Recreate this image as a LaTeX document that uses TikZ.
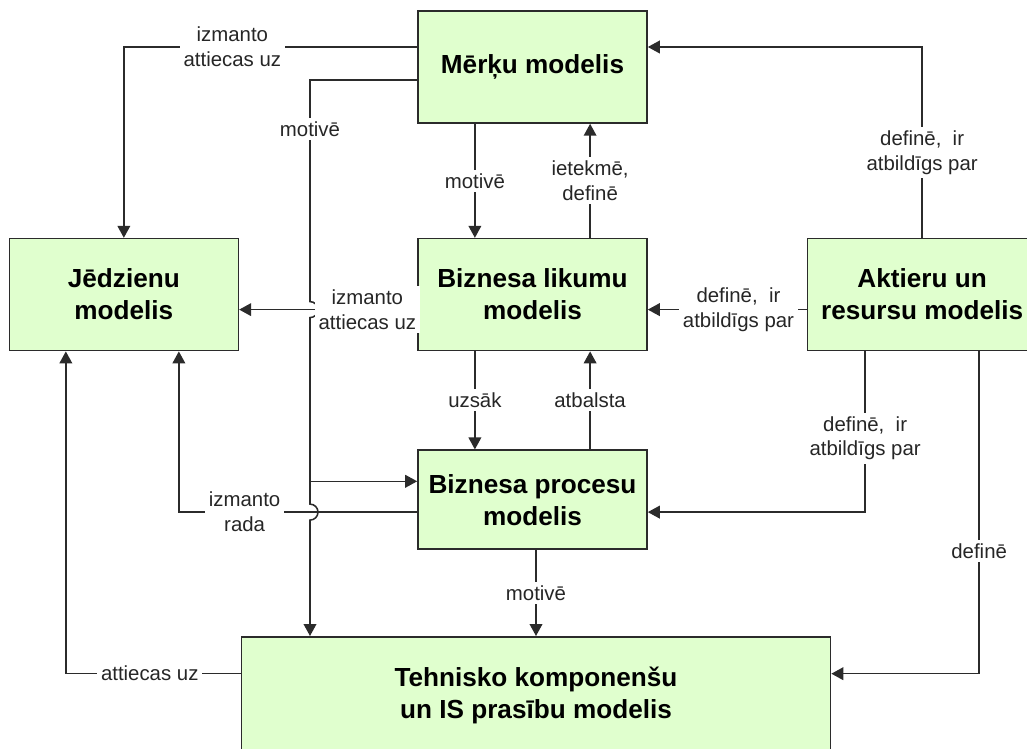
\documentclass[tikz,border=0pt]{standalone}
\usepackage{fontspec}
\setmainfont{Liberation Sans}
\usetikzlibrary{shapes,positioning,calc,arrows.meta}

\definecolor{modelgreen}{HTML}{E0FFCE}
\definecolor{linegray}{HTML}{2B2B2B}

\begin{document}
\begin{tikzpicture}[
      x=0.025cm, y=-0.025cm, line width=1.1pt,
      >={Triangle[width=9pt,length=8.5pt]},
      model/.style={draw=linegray,fill=modelgreen,align=center,
        minimum width=5.725cm,minimum height=2.8cm,
        font=\fontsize{18.6}{22.7}\selectfont\bfseries},
      rel/.style={draw=linegray,->},
      lbl/.style={fill=white,inner sep=2.5pt,align=center,text=black!85,
        font=\fontsize{14.5}{17.7}\selectfont}
      ]

      % Lai attēla izmērs sakristu ar oriģinālu.
      \path[use as bounding box] (0,0) rectangle (1027,749);

      \path node[model] (merki) at (532.5,67) {Mērķu modelis};
      \path node[model,below=2.85cm of merki] (likumu) {Biznesa likumu\\modelis};
      \path node[model,left=4.45cm of likumu] (jedz) {Jēdzienu\\modelis};
      \path node[model,right=3.975cm of likumu] (aktieru) {Aktieru un\\resursu modelis};
      \path node[model,below=2.45cm of likumu,minimum height=2.475cm] (procesu) {Biznesa procesu\\modelis};
      \path node[model,below=2.15cm of procesu,xshift=0.0875cm,minimum width=14.725cm,
        minimum height=2.925cm] (tehn) {Tehnisko komponenšu\\un IS prasību modelis};

      \path coordinate (likumuL) at ([yshift=-0.375cm]likumu.west)
            coordinate (procesuL) at ([yshift=-0.31cm]procesu.west)
            coordinate (procesuT) at ([yshift=0.46cm]procesu.west);
      \path coordinate (hopA) at (310,0 |- likumuL)
            coordinate (hopB) at (310,0 |- procesuL);

      \path[rel] ([yshift=0.5cm]merki.west) -| node[lbl,pos=0.315] {izmanto\\attiecas uz} (jedz.north);

      % motivē: garā līnija ar lēcieniem
      \path[rel] ([yshift=-0.325cm]merki.west) -| node[lbl,pos=0.61] {motivē}
        ([yshift=0.2cm]hopA) arc (90:-90:0.2cm) -- ([yshift=0.2cm]hopB)
        arc (90:-90:0.2cm) -- (tehn.north -| hopA);
      \path[rel] (hopB |- procesuT) -- (procesuT);

      \path[rel] ([xshift=-1.44cm]merki.south) -- node[lbl] {motivē} ([xshift=-1.44cm]likumu.north);
      \path[rel] ([xshift=1.44cm]likumu.north) -- node[lbl] {ietekmē,\\definē} ([xshift=1.44cm]merki.south);
      \path[rel] (likumuL) -- node[lbl,pos=0.28] {izmanto\\attiecas uz} ([yshift=-0.375cm]jedz.east);

      \path[rel] ([xshift=-1.44cm]likumu.south) -- node[lbl] {uzsāk} ([xshift=-1.44cm]procesu.north);
      \path[rel] ([xshift=1.44cm]procesu.north) -- node[lbl] {atbalsta} ([xshift=1.44cm]likumu.south);
      \path[rel] (procesuL) -| node[lbl,pos=0.362] {izmanto\\rada} ([xshift=1.375cm]jedz.south);
      \path[rel] (tehn.north |- procesu.south) -- node[lbl] {motivē} (tehn.north);

      \path[rel] (aktieru.north) |- node[lbl,pos=0.224] {definē,\ \ ir\\atbildīgs par} ([yshift=0.5cm]merki.east);
      \path[rel] ([yshift=-0.375cm]aktieru.west) -- node[lbl,pos=0.43] {definē,\ \ ir\\atbildīgs par} ([yshift=-0.375cm]likumu.east);
      \path[rel] ([xshift=-1.425cm]aktieru.south) |- node[lbl,pos=0.27] {definē,\ \ ir\\atbildīgs par} ([yshift=-0.31cm]procesu.east);
      \path[rel] ([xshift=1.425cm]aktieru.south) |- node[lbl,pos=0.31] {definē} ([yshift=0.54cm]tehn.east);

      \path[rel] ([yshift=0.54cm]tehn.west) -| node[lbl,pos=0.26] {attiecas uz} ([xshift=-1.45cm]jedz.south);
    \end{tikzpicture}
\end{document}
